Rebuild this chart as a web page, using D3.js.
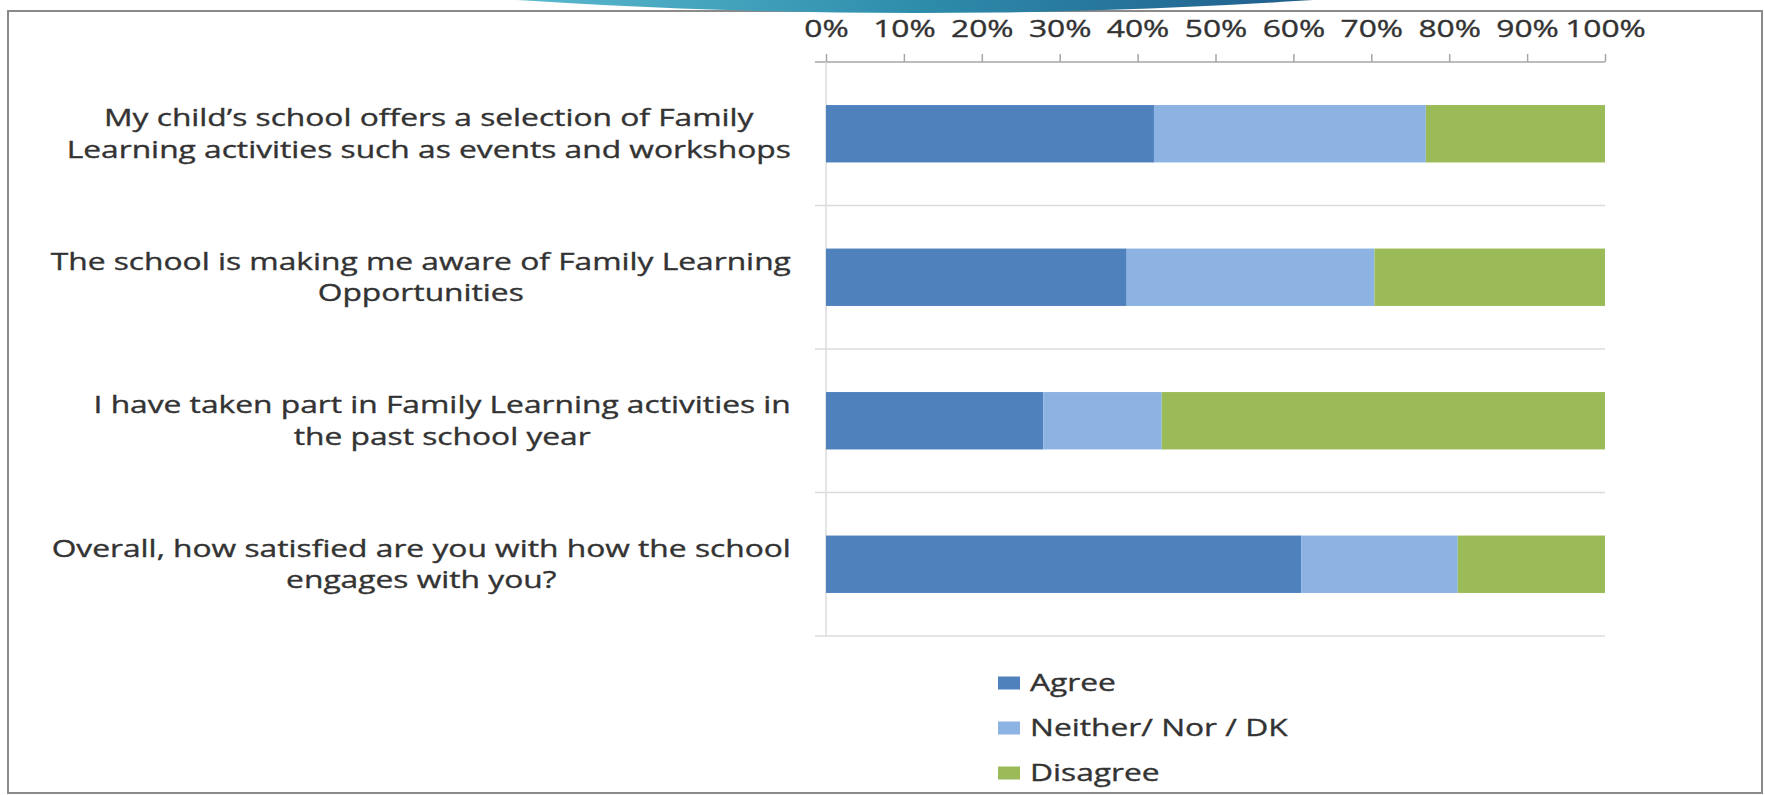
<!DOCTYPE html>
<html>
<head>
<meta charset="utf-8">
<script src="https://cdn.jsdelivr.net/npm/d3@7"></script>
<style>
  html, body { margin: 0; padding: 0; background: #fff; }
  svg { display: block; }
  text { font-family: "Open Sans", "DejaVu Sans", sans-serif; fill: #333; stroke: #333; stroke-width: 0.35px; }
</style>
</head>
<body>
<div id="chart"></div>
<script>
// Survey responses, percent of parents
const categories = [
  "My child’s school offers a selection of Family\nLearning activities such as events and workshops",
  "The school is making me aware of Family Learning\nOpportunities",
  "I have taken part in Family Learning activities in\nthe past school year",
  "Overall, how satisfied are you with how the school\nengages with you?"
];
const agree = [42.1, 38.6, 27.9, 61.0];
const neither = [34.9, 31.8, 15.2, 20.1];
const disagree = [23.0, 29.6, 56.9, 18.9];
const seriesNames = ["Agree", "Neither/ Nor / DK", "Disagree"];
const seriesColors = ["#4f81bd", "#8db3e2", "#9bbb59"];
const xTicks = [0, 10, 20, 30, 40, 50, 60, 70, 80, 90, 100];

const width = 1765;
const height = 795;
const fontSize = 23;
const stretch = 1.38; // source picture is stretched sideways

const svg = d3.select("#chart").append("svg").attr("width", width).attr("height", height);

// chart frame
svg.append("rect")
  .attr("x", 8).attr("y", 11).attr("width", 1754).attr("height", 782)
  .attr("fill", "#fff").attr("stroke", "#8a8a8a").attr("stroke-width", 2);

// slide decoration peeking over the frame
const defs = svg.append("defs");
const grad = defs.append("linearGradient").attr("id", "topArc")
  .attr("gradientUnits", "userSpaceOnUse")
  .attr("x1", 500).attr("x2", 1330).attr("y1", 0).attr("y2", 0);
grad.append("stop").attr("offset", "0%").attr("stop-color", "#5cbbd0");
grad.append("stop").attr("offset", "50%").attr("stop-color", "#2e8dab");
grad.append("stop").attr("offset", "100%").attr("stop-color", "#1f5b8b");
svg.append("ellipse")
  .attr("cx", 915).attr("cy", -400).attr("rx", 1600).attr("ry", 413)
  .attr("fill", "url(#topArc)");

const x = d3.scaleLinear().domain([0, 100]).range([826, 1605]);
const y = d3.scaleBand().domain(d3.range(categories.length)).range([62, 636]).paddingInner(0.6).paddingOuter(0.3);

// category separators (top one doubles as the value axis line)
const bandStep = y.step();
svg.append("g")
  .selectAll("line")
  .data(d3.range(categories.length + 1))
  .join("line")
  .attr("x1", 815).attr("x2", x(100))
  .attr("y1", (i) => 62 + i * bandStep).attr("y2", (i) => 62 + i * bandStep)
  .attr("stroke", (i) => (i === 0 ? "#a6a6a6" : "#dcdcdc"))
  .attr("stroke-width", 1.5);

svg.append("line")
  .attr("x1", x(0)).attr("x2", x(0))
  .attr("y1", 62).attr("y2", 62 + categories.length * bandStep)
  .attr("stroke", "#dcdcdc").attr("stroke-width", 1.5);

// stacked bars
const rows = categories.map((c, i) => ({ i, Agree: agree[i], Neither: neither[i], Disagree: disagree[i] }));
const stack = d3.stack().keys(["Agree", "Neither", "Disagree"])(rows);

svg.append("g")
  .selectAll("g")
  .data(stack)
  .join("g")
  .attr("fill", (d, k) => seriesColors[k])
  .selectAll("rect")
  .data((d) => d)
  .join("rect")
  .attr("x", (d) => x(d[0]))
  .attr("width", (d) => x(d[1]) - x(d[0]))
  .attr("y", (d) => y(d.data.i))
  .attr("height", y.bandwidth());

// value axis on top
const axis = svg.append("g")
  .attr("transform", "translate(0,62)")
  .call(d3.axisTop(x).tickValues(xTicks).tickFormat((d) => d + "%").tickSize(8).tickPadding(17));
axis.select(".domain").remove();
axis.selectAll(".tick line").attr("stroke", "#a6a6a6").attr("stroke-width", 1.5);
axis.selectAll(".tick text")
  .attr("font-size", fontSize)
  .attr("font-family", null)
  .attr("fill", null)
  .attr("transform", `scale(${stretch},1)`);

// category labels, centred lines, block pushed against the axis
const labelRight = 791;
const lineH = 31.5;
categories.forEach((label, i) => {
  const lines = label.split("\n");
  const c = y(i) + y.bandwidth() / 2;
  const g = svg.append("g");
  const texts = lines.map((line) =>
    g.append("text")
      .attr("font-size", fontSize)
      .attr("text-anchor", "middle")
      .text(line)
  );
  const maxW = d3.max(texts, (t) => t.node().getComputedTextLength()) * stretch;
  const cx = labelRight - maxW / 2;
  texts.forEach((t, k) => {
    const base = c - 7.4 + k * lineH - ((lines.length - 2) * lineH) / 2;
    t.attr("transform", `translate(${cx},${base}) scale(${stretch},1)`);
  });
});

// legend
const legend = svg.append("g")
  .selectAll("g")
  .data(seriesNames)
  .join("g")
  .attr("transform", (d, k) => `translate(998,${683 + k * 45})`);
legend.append("rect")
  .attr("x", 0).attr("y", -6.5).attr("width", 22).attr("height", 13)
  .attr("fill", (d, k) => seriesColors[k]);
legend.append("text")
  .attr("font-size", fontSize)
  .attr("transform", `translate(32,8) scale(${stretch},1)`)
  .text((d) => d);
</script>
</body>
</html>
